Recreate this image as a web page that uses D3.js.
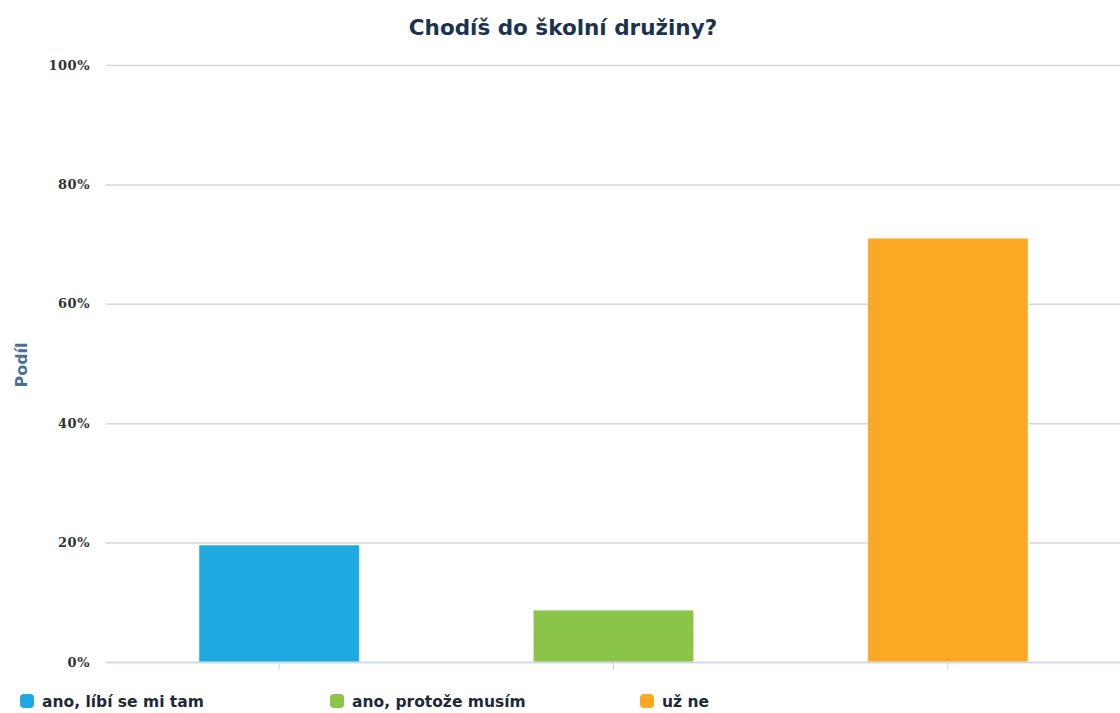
<!DOCTYPE html>
<html><head><meta charset="utf-8">
<script src="https://cdnjs.cloudflare.com/ajax/libs/d3/7.8.5/d3.min.js"></script>
<style>body{margin:0;background:#fff}svg{display:block}</style>
</head><body><svg id="c" width="1120" height="713"></svg>
<script>
const categories = ["ano, líbí se mi tam", "ano, protože musím", "už ne"];
const values = [19.6, 8.7, 71.0];
const colors = ["#1fa9e1", "#8ac449", "#fba924"];
const yTicks = [0, 20, 40, 60, 80, 100];
const title = "Chodíš do školní družiny?";
const yTitle = "Podíl";

const svg = d3.select("#c");
const plotL = 106, plotR = 1120, plotT = 65, plotB = 662;

const x = d3.scaleBand().domain(categories).range([112, 1115]).paddingInner(0.52).paddingOuter(0.26);
const y = d3.scaleLinear().domain([0, 100]).range([plotB, plotT]);

// gridlines
const yAxis = d3.axisLeft(y).tickValues(yTicks).tickFormat(d => d + "%").tickSize(-(plotR - plotL)).tickPadding(16);
const gy = svg.append("g").attr("transform", `translate(${plotL},0)`).call(yAxis);
gy.select(".domain").remove();
gy.selectAll(".tick line").attr("stroke", "#d6d6d6").attr("stroke-width", 1.5);
gy.selectAll(".tick text").attr("fill", "#333").attr("font-family", "DejaVu Serif, serif").attr("font-weight", "bold").attr("font-size", "13px").attr("letter-spacing", "0.5px");

// bars
svg.append("g").selectAll("rect").data(values).join("rect")
  .attr("x", (d, i) => x(categories[i]))
  .attr("width", x.bandwidth())
  .attr("y", d => y(d))
  .attr("height", d => plotB - y(d))
  .attr("fill", (d, i) => colors[i])
  .attr("stroke", "#ffffff").attr("stroke-opacity", 0.6).attr("stroke-width", 1);

// x axis
const xAxis = d3.axisBottom(x).tickSize(8).tickFormat("");
const gx = svg.append("g").attr("transform", `translate(0,${plotB})`).call(xAxis);
gx.select(".domain").remove();
gx.selectAll(".tick line").attr("stroke", "#ccd6eb");
svg.append("line").attr("x1", plotL).attr("x2", plotR).attr("y1", plotB + 0.5).attr("y2", plotB + 0.5).attr("stroke", "#ccd6eb").attr("stroke-width", 1.5);

// title
svg.append("text").attr("x", 563).attr("y", 35).attr("text-anchor", "middle")
  .attr("font-family", "DejaVu Sans, sans-serif").attr("font-weight", "bold").attr("font-size", "21.5px")
  .attr("fill", "#1b3350").text(title);

// y title
svg.append("text").attr("transform", "translate(27,365) rotate(-90)").attr("text-anchor", "middle")
  .attr("font-family", "DejaVu Sans, sans-serif").attr("font-weight", "bold").attr("font-size", "16px")
  .attr("fill", "#4a6e96").text(yTitle);

// legend
const lg = svg.append("g").selectAll("g").data(categories).join("g")
  .attr("transform", (d, i) => `translate(${20 + i * 310},701)`);
lg.append("rect").attr("x", 0).attr("y", -7).attr("width", 14).attr("height", 14).attr("rx", 4)
  .attr("fill", (d, i) => colors[i]);
lg.append("text").attr("x", 22).attr("y", 5.5)
  .attr("font-family", "DejaVu Sans, sans-serif").attr("font-weight", "bold").attr("font-size", "15.5px")
  .attr("fill", "#1e2a38").text(d => d);
</script></body></html>
